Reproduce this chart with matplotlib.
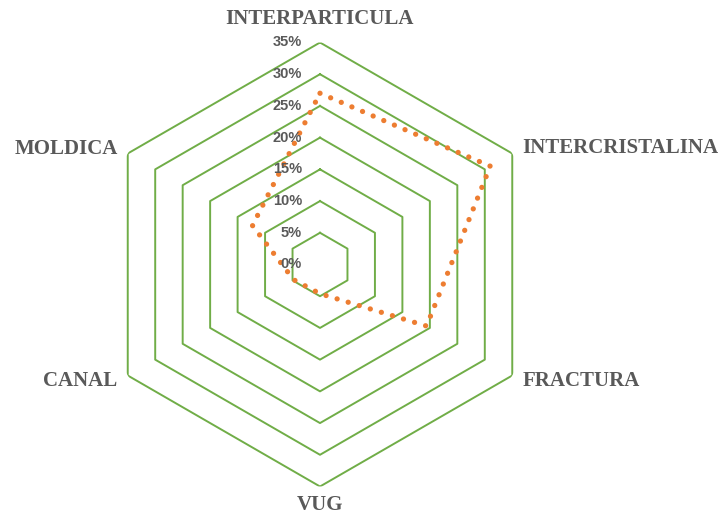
import matplotlib
matplotlib.use("Agg")
import matplotlib.pyplot as plt
import numpy as np
from matplotlib.transforms import offset_copy

# porosity type shares (fraction of total)
categories = ["INTERPARTICULA", "INTERCRISTALINA", "FRACTURA", "VUG", "CANAL", "MOLDICA"]
values = [0.270, 0.310, 0.194, 0.046, 0.048, 0.123]
rings = [0.05, 0.10, 0.15, 0.20, 0.25, 0.30, 0.35]
ring_labels = ["0%", "5%", "10%", "15%", "20%", "25%", "30%", "35%"]

GREEN = "#70AD47"
ORANGE = "#ED7D31"
GREY = "#595959"

fig = plt.figure(figsize=(7.27, 5.19), dpi=100)
ax = fig.add_axes([98 / 727, 32.5 / 519, 444 / 727, 444 / 519], projection="polar")
ax.set_theta_offset(np.pi / 2)
ax.set_theta_direction(-1)
ax.set_ylim(0, 0.35)
ax.grid(False)
ax.spines["polar"].set_visible(False)
ax.set_xticks([])
ax.set_yticks([])

theta = np.linspace(0, 2 * np.pi, len(categories), endpoint=False)
theta_closed = np.append(theta, theta[0])

# hexagonal gridlines
for r in rings:
    ax.plot(theta_closed, [r] * len(theta_closed), color=GREEN, lw=1.4, zorder=1)

vals_closed = values + values[:1]
ax.plot(theta_closed, vals_closed, color=ORANGE, lw=3.8,
        linestyle=(0, (0.01, 2.18)), dash_capstyle="round", zorder=3)

# radial value labels along the top spoke
tick_tr = offset_copy(ax.transData, fig=fig, x=-18, y=0, units="dots")
for r, lab in zip([0.0] + rings, ring_labels):
    ax.text(0, r, lab, transform=tick_tr, ha="right", va="center",
            fontsize=10.5, fontweight="bold", color=GREY, family="Liberation Sans")

# category labels outside the outer ring
offsets = [(0, 24, "center"), (10, 5.5, "left"), (10, -5.5, "left"),
           (0, -19, "center"), (-10, -5.5, "right"), (-10, 4.5, "right")]
for t, name, (dx, dy, ha) in zip(theta, categories, offsets):
    tr = offset_copy(ax.transData, fig=fig, x=dx, y=dy, units="dots")
    ax.text(t, 0.35, name, transform=tr, ha=ha, va="center", fontsize=15,
            fontweight="bold", color=GREY, family="Liberation Serif")

fig.savefig("out.png", dpi=100)
